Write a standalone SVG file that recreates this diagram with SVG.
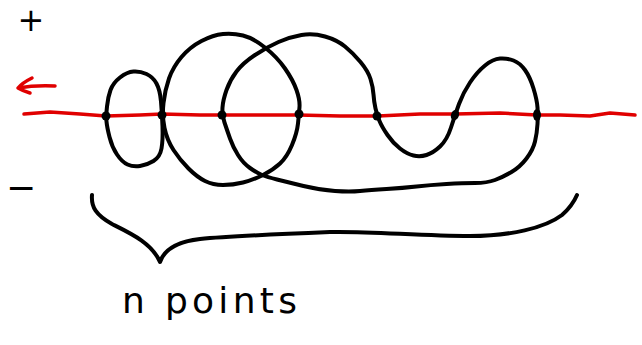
<svg xmlns="http://www.w3.org/2000/svg" width="642" height="345" viewBox="0 0 642 345">
<style>
.ink{fill:none;stroke:#000;stroke-width:4;stroke-linecap:round;stroke-linejoin:round}
.red{fill:none;stroke:#e00000;stroke-width:3.5;stroke-linecap:round;stroke-linejoin:round}
.dot{fill:#000}
.lbl{font-family:"DejaVu Sans","Liberation Sans",sans-serif;fill:#000}
</style>
<rect width="642" height="345" fill="#fff"/>
<g id="axis">
<polyline class="red" points="24,114 50,112 80,114 106,116 140,115 162,114 200,115 222,115 260,115 298,115 340,116 378,116 420,114 455,114 500,113 537,115 560,115 590,116 610,113 635,115"/>
<path class="red" d="M55,86 Q35,85 18,88 M32,78 Q22,83 18,88 Q23,91 30,93"/>
</g>
<g id="connectors">
<path id="small-loop" class="ink" d="M106.5,121.5 Q106,116 107,106.5 Q108,97 110.5,90 Q113,83 120,77.5 Q127,72 133.5,71.5 Q140,71 146.5,74 Q153,77 156.5,83.5 Q160,90 161,101.5 Q162,113 162.5,126.5 Q163,140 161.5,148.5 Q160,157 153.5,161 Q147,165 140,166 Q133,167 127.5,164.5 Q122,162 117,154.5 Q112,147 109.5,137 Q107,127 106.5,121.5 Z"/>
<path id="circle-loop" class="ink" d="M164.5,128 Q162,116 163.5,103 Q165,90 169,78.5 Q173,67 181.5,57 Q190,47 201.5,41 Q213,35 223,34 Q233,33 243,35.5 Q253,38 265,47.5 Q277,57 285,68.5 Q293,80 296.5,90 Q300,100 299.5,107 Q299,114 298,123.5 Q297,133 292,145 Q287,157 280,163.5 Q273,170 263,175 Q253,180 243,182.5 Q233,185 223,185 Q213,185 205,181 Q197,177 188.5,168.5 Q180,160 173.5,150 Q167,140 164.5,128 Z"/>
<path id="wave-loop" class="ink" d="M224.5,122.5 Q222,115 222.5,107.5 Q223,100 226.5,90 Q230,80 236.5,71.5 Q243,63 255,55 Q267,47 278.5,42 Q290,37 301.5,35 Q313,33 325,36.5 Q337,40 345,46.5 Q353,53 360.5,62 Q368,71 370.5,79 Q373,87 373.5,94.5 Q374,102 375.5,108.5 Q377,115 379.5,121 Q382,127 387.5,135 Q393,143 400,148.5 Q407,154 413.5,155.5 Q420,157 426.5,155 Q433,153 440,146.5 Q447,140 451,127.5 Q455,115 459,104 Q463,93 470,82.5 Q477,72 485,65.5 Q493,59 500,58.5 Q507,58 513.5,60.5 Q520,63 525,70 Q530,77 533.5,88.5 Q537,100 537.5,107.5 Q538,115 537.5,124 Q537,133 535,141.5 Q533,150 526.5,158.5 Q520,167 511.5,172 Q503,177 495,180 Q487,183 475,183 Q463,183 446.5,184 Q430,185 416.5,186.5 Q403,188 386.5,189 Q370,190 360,191 Q350,192 335,191 Q320,190 303.5,186 Q287,182 277,179.5 Q267,177 262,175 Q257,173 250,168 Q243,163 238,155 Q233,147 230,138.5 Q227,130 224.5,122.5 Z"/>
</g>
<g id="p1"><circle class="dot" cx="106" cy="116" r="4.5"/></g>
<g id="p2"><circle class="dot" cx="162" cy="115" r="4.5"/></g>
<g id="p3"><circle class="dot" cx="222" cy="115" r="4.5"/></g>
<g id="p4"><circle class="dot" cx="299" cy="114" r="4.5"/></g>
<g id="p5"><circle class="dot" cx="377" cy="116" r="4.5"/></g>
<g id="p6"><ellipse class="dot" cx="455" cy="115" rx="4" ry="5.5" transform="rotate(20 455 115)"/></g>
<g id="p7"><ellipse class="dot" cx="537" cy="115" rx="4" ry="6"/></g>
<g id="brace">
<path class="ink" d="M92,195 C91,207 96,215 112,224 C130,233 152,243 160,262 C164,250 175,242 200,239 C230,236 280,234 330,232 C370,231 420,236 470,236 C510,236 545,228 562,215 C570,208 574,202 577,195"/>
</g>
<g id="labels">
<text class="lbl" x="31" y="31" font-size="32" text-anchor="middle">+</text>
<text class="lbl" x="21" y="200" font-size="36" text-anchor="middle">−</text>
<text class="lbl" x="122" y="313" font-size="36" textLength="175" lengthAdjust="spacing">n points</text>
</g>
</svg>
